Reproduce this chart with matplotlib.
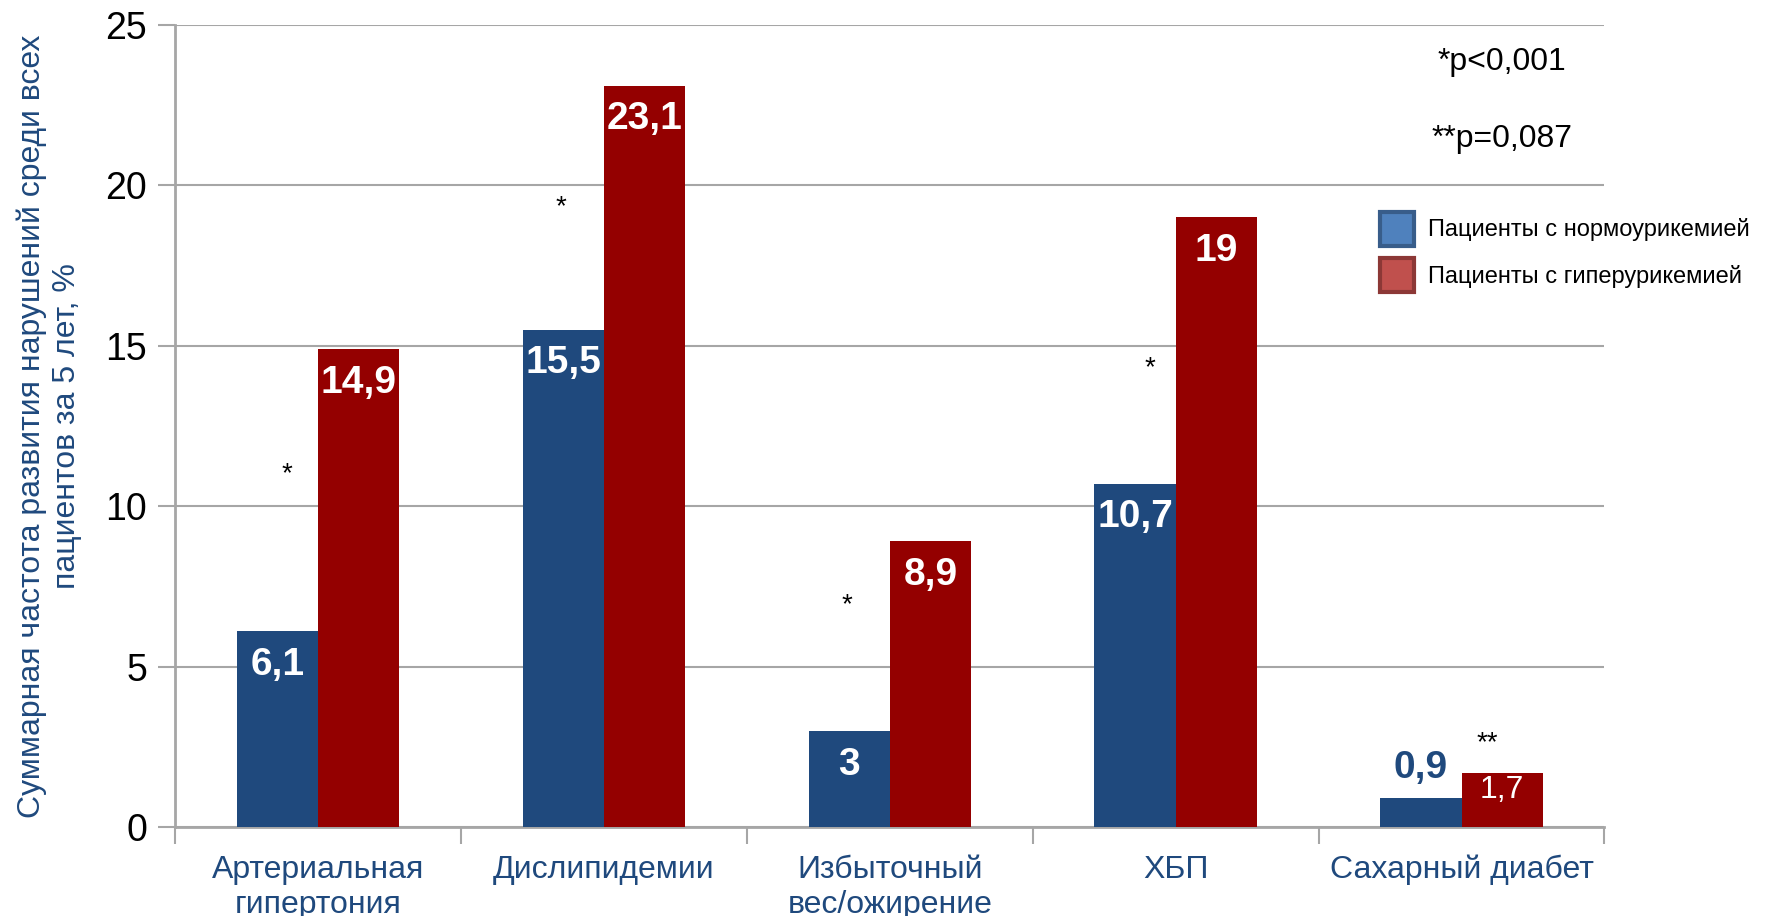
import matplotlib.pyplot as plt
from matplotlib.patches import Patch
import numpy as np

plt.rcParams['font.family'] = ['Liberation Sans', 'DejaVu Sans']

categories = ['Артериальная\nгипертония', 'Дислипидемии', 'Избыточный\nвес/ожирение',
              'ХБП', 'Сахарный диабет']
normo = [6.1, 15.5, 3, 10.7, 0.9]
hyper = [14.9, 23.1, 8.9, 19, 1.7]
normo_labels = ['6,1', '15,5', '3', '10,7', '0,9']
hyper_labels = ['14,9', '23,1', '8,9', '19', '1,7']
# significance marks: (group, text, height)
stars = [(0, '*', 11.0), (1, '*', 19.3), (2, '*', 6.9), (3, '*', 14.3), (4, '**', 2.6)]
star_dx = [-0.11, -0.15, -0.15, -0.09, 0.09]
legend_names = ['Пациенты с нормоурикемией', 'Пациенты с гиперурикемией']

blue = '#1f497d'
red = '#940000'
grid_c = '#a6a6a6'

fig = plt.figure(figsize=(17.69, 9.16), dpi=100)
ax = fig.add_axes([0.099, 0.097, 0.808, 0.876])

x = np.arange(len(categories))
w = 0.284
ax.bar(x - w / 2, normo, w, color=blue, zorder=3)
ax.bar(x + w / 2, hyper, w, color=red, zorder=3)

for i in range(len(x)):
    if normo[i] < 2:
        ax.text(x[i] - w / 2, normo[i] + 0.95, normo_labels[i], ha='center', va='center',
                color=blue, fontsize=28, fontweight='bold', zorder=4)
    else:
        ax.text(x[i] - w / 2, normo[i] - 1.05, normo_labels[i], ha='center', va='center',
                color='white', fontsize=28, fontweight='bold', zorder=4)
    if hyper[i] < 2:
        ax.text(x[i] + w / 2, hyper[i] - 0.55, hyper_labels[i], ha='center', va='center',
                color='white', fontsize=23, zorder=4)
    else:
        ax.text(x[i] + w / 2, hyper[i] - 1.05, hyper_labels[i], ha='center', va='center',
                color='white', fontsize=28, fontweight='bold', zorder=4)

for (g, s, h), dx in zip(stars, star_dx):
    ax.text(g + dx, h, s, ha='center', va='center', fontsize=20, color='black')

ax.set_xlim(-0.5, 4.5)
ax.set_ylim(0, 25)
ax.set_yticks([0, 5, 10, 15, 20, 25])
ax.set_yticklabels(['0', '5', '10', '15', '20', '25'])
ax.set_xticks(x)
ax.set_xticklabels(categories, color=blue, fontsize=23)
ax.set_xticks(np.arange(-0.5, 5, 1), minor=True)
ax.tick_params(axis='x', which='major', length=0, pad=20)
ax.tick_params(axis='x', which='minor', length=12, width=1.5, color=grid_c)
ax.tick_params(axis='y', length=12, width=1.5, color=grid_c, labelsize=27, pad=8)
ax.yaxis.grid(True, color=grid_c, linewidth=1.5, zorder=0)
for sp in ['top', 'right']:
    ax.spines[sp].set_visible(False)
for sp in ['left', 'bottom']:
    ax.spines[sp].set_color(grid_c)
    ax.spines[sp].set_linewidth(2)

ax.set_ylabel('Суммарная частота развития нарушений среди всех\nпациентов за 5 лет, %',
              fontsize=23, color=blue, labelpad=17)

handles = [Patch(facecolor='#4f81bd', edgecolor='#385d8a', linewidth=3),
           Patch(facecolor='#c0504d', edgecolor='#8c3836', linewidth=3)]
fig.legend(handles, legend_names, loc='upper left', bbox_to_anchor=(0.768, 0.792),
           frameon=False, fontsize=17, handlelength=1.45, handleheight=1.84,
           handletextpad=0.6, labelspacing=0.52)

fig.text(0.849, 0.932, '*p<0,001', ha='center', va='center', fontsize=23)
fig.text(0.849, 0.848, '**p=0,087', ha='center', va='center', fontsize=23)

fig.savefig('out.png')
